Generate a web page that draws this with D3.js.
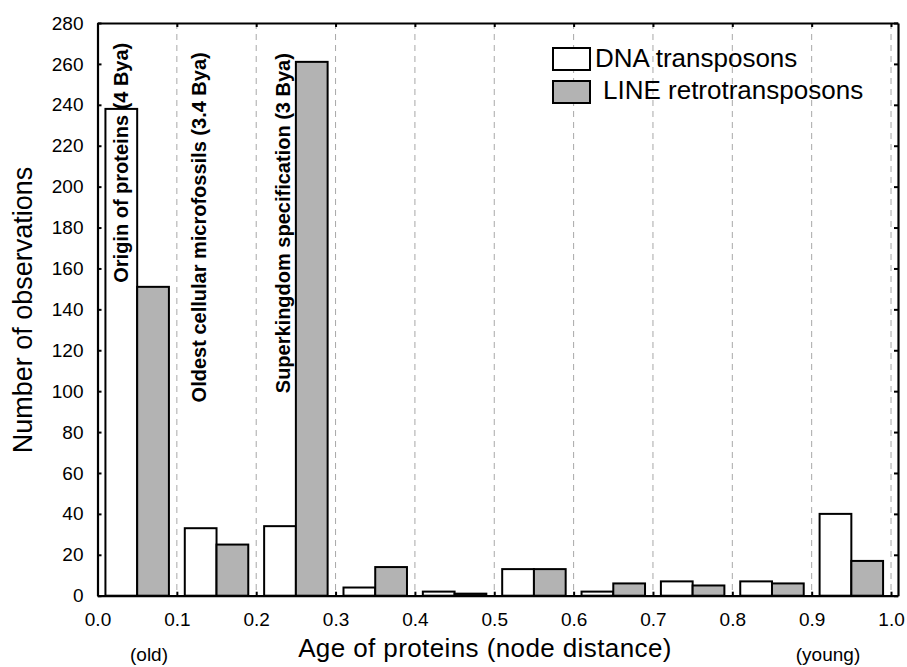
<!DOCTYPE html>
<html>
<head>
<meta charset="utf-8">
<script src="https://cdn.jsdelivr.net/npm/d3@7"></script>
<style>
  body { margin: 0; background: #fff; }
  svg text { font-family: Arial, "Liberation Sans", sans-serif; fill: #000; }
</style>
</head>
<body>
<div id="vis"></div>
<script>
// bin starts (node distance) and counts per bin
const binStarts = [0.0, 0.1, 0.2, 0.3, 0.4, 0.5, 0.6, 0.7, 0.8, 0.9];
const dnaCounts = [238, 33, 34, 4, 2, 13, 2, 7, 7, 40];
const lineCounts = [151, 25, 261, 14, 1, 13, 6, 5, 6, 17];

const xTicks = [0.0, 0.1, 0.2, 0.3, 0.4, 0.5, 0.6, 0.7, 0.8, 0.9, 1.0];
const yTicks = [0, 20, 40, 60, 80, 100, 120, 140, 160, 180, 200, 220, 240, 260, 280];
const gridLines = [0.1, 0.2, 0.3, 0.4, 0.5, 0.6, 0.7, 0.8, 0.9, 1.0];

const seriesNames = ['DNA transposons', 'LINE retrotransposons'];
const events = [
  { text: 'Origin of proteins (4 Bya)', x: 0.039, y: 153 },
  { text: 'Oldest cellular microfossils (3.4 Bya)', x: 0.137, y: 94.5 },
  { text: 'Superkingdom specification (3 Bya)', x: 0.242, y: 99 },
];

const WIDTH = 907;
const HEIGHT = 667;
const MARGIN = { top: 23, right: 9, bottom: 71, left: 97.5 };
const GRAY = '#b3b3b3';

const SVG = d3.select('#vis').append('svg')
  .attr('width', WIDTH)
  .attr('height', HEIGHT);

const x = d3.scaleLinear()
  .domain([0, 1.0088])
  .range([MARGIN.left, WIDTH - MARGIN.right]);

const y = d3.scaleLinear()
  .domain([0, 280])
  .range([HEIGHT - MARGIN.bottom - 0.3, MARGIN.top]);

const x0 = x.range()[0], x1 = x.range()[1];
const y0 = y(0), y1 = y(280);

// dashed vertical grid
SVG.append('g')
  .selectAll('line')
  .data(gridLines)
  .join('line')
  .attr('x1', (d) => x(d))
  .attr('x2', (d) => x(d))
  .attr('y1', y1)
  .attr('y2', y0)
  .attr('stroke', '#a8a8a8')
  .attr('stroke-width', 1)
  .attr('stroke-dasharray', '6,5');

// bars
const bars = SVG.append('g');
bars.selectAll('rect.dna')
  .data(binStarts)
  .join('rect')
  .attr('class', 'dna')
  .attr('x', (d) => x(d + 0.01))
  .attr('width', (d) => x(d + 0.05) - x(d + 0.01))
  .attr('y', (d, i) => y(dnaCounts[i]))
  .attr('height', (d, i) => y0 - y(dnaCounts[i]))
  .attr('fill', '#fff')
  .attr('stroke', '#000')
  .attr('stroke-width', 2);

bars.selectAll('rect.line')
  .data(binStarts)
  .join('rect')
  .attr('class', 'line')
  .attr('x', (d) => x(d + 0.05))
  .attr('width', (d) => x(d + 0.09) - x(d + 0.05))
  .attr('y', (d, i) => y(lineCounts[i]))
  .attr('height', (d, i) => y0 - y(lineCounts[i]))
  .attr('fill', GRAY)
  .attr('stroke', '#000')
  .attr('stroke-width', 2);

// event labels (rotated)
SVG.append('g')
  .selectAll('text')
  .data(events)
  .join('text')
  .attr('transform', (d) => `translate(${x(d.x)},${y(d.y)}) rotate(-90)`)
  .attr('font-size', 20)
  .attr('font-weight', 'bold')
  .text((d) => d.text);

// frame with inward ticks on all sides
const axes = SVG.append('g');
axes.append('g')
  .attr('transform', `translate(0,${y0})`)
  .call(d3.axisBottom(x).tickValues(xTicks).tickSizeInner(-4).tickSizeOuter(0).tickFormat(d3.format('.1f')))
  .call((g) => g.selectAll('text').attr('font-size', 19).attr('dy', '1.45em'));
axes.append('g')
  .attr('transform', `translate(0,${y1})`)
  .call(d3.axisTop(x).tickValues(xTicks).tickSizeInner(-4).tickSizeOuter(0).tickFormat(''));
axes.append('g')
  .attr('transform', `translate(${x0},0)`)
  .call(d3.axisLeft(y).tickValues(yTicks).tickSizeInner(-4).tickSizeOuter(0).tickPadding(14))
  .call((g) => g.selectAll('text').attr('font-size', 19));
axes.append('g')
  .attr('transform', `translate(${x1},0)`)
  .call(d3.axisRight(y).tickValues(yTicks).tickSizeInner(-4).tickSizeOuter(0).tickFormat(''));
axes.selectAll('.domain').attr('stroke', '#000').attr('stroke-width', 2.2);
axes.selectAll('.tick line').attr('stroke', '#000').attr('stroke-width', 2);
axes.selectAll('text').attr('font-family', 'Arial, "Liberation Sans", sans-serif').attr('fill', '#000');

// axis titles
SVG.append('text')
  .attr('x', 485)
  .attr('y', 657)
  .attr('text-anchor', 'middle')
  .attr('font-size', 26)
  .attr('letter-spacing', 0.4)
  .text('Age of proteins (node distance)');

SVG.append('text')
  .attr('x', 149)
  .attr('y', 661)
  .attr('text-anchor', 'middle')
  .attr('font-size', 19)
  .text('(old)');

SVG.append('text')
  .attr('x', 828)
  .attr('y', 661)
  .attr('text-anchor', 'middle')
  .attr('font-size', 19)
  .text('(young)');

SVG.append('text')
  .attr('transform', 'translate(32,310) rotate(-90)')
  .attr('text-anchor', 'middle')
  .attr('font-size', 27)
  .text('Number of observations');

// legend
const legend = SVG.append('g');
const legendRows = [
  { name: seriesNames[0], fill: '#fff', sy: 48, tx: 595, ty: 67 },
  { name: seriesNames[1], fill: GRAY, sy: 81, tx: 603, ty: 99 },
];
legendRows.forEach((r) => {
  legend.append('rect')
    .attr('x', 553)
    .attr('y', r.sy)
    .attr('width', 37)
    .attr('height', 22)
    .attr('fill', r.fill)
    .attr('stroke', '#000')
    .attr('stroke-width', 2);
  legend.append('text')
    .attr('x', r.tx)
    .attr('y', r.ty)
    .attr('font-size', 26)
    .text(r.name);
});
</script>
</body>
</html>
